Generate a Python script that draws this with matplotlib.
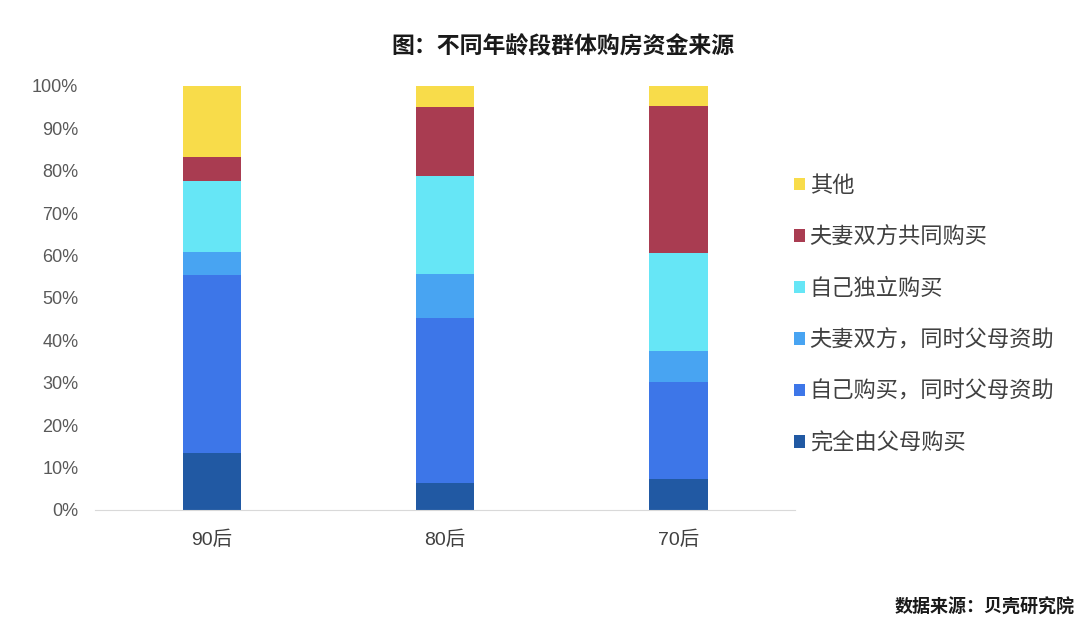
import matplotlib
matplotlib.use("Agg")
import matplotlib.pyplot as plt
from matplotlib.patches import Patch

plt.rcParams['font.family'] = ['Noto Sans CJK SC', 'DejaVu Sans']

# data (percent)
categories = ['90后', '80后', '70后']
series_names = ['完全由父母购买', '自己购买，同时父母资助', '夫妻双方，同时父母资助',
                '自己独立购买', '夫妻双方共同购买', '其他']
parents_only = [13.5, 6.3, 7.3]
self_with_parents = [42.0, 39.0, 23.0]
couple_with_parents = [5.4, 10.4, 7.1]
self_only = [16.6, 23.0, 23.1]
couple_only = [5.8, 16.3, 34.9]
other = [16.7, 5.0, 4.6]
colors = ['#2159a3', '#3d76e8', '#48a4f2', '#66e6f6', '#a93c51', '#f8dc4a']

series = [parents_only, self_with_parents, couple_with_parents, self_only, couple_only, other]

fig = plt.figure(figsize=(10.8, 6.23), dpi=100)
ax = fig.add_axes([95 / 1080, 1 - 510 / 623, 700 / 1080, 424 / 623])

x = list(range(len(categories)))
bottom = [0.0] * len(categories)
for vals, col in zip(series, colors):
    ax.bar(x, vals, 0.25, bottom=bottom, color=col, edgecolor='none')
    bottom = [b + v for b, v in zip(bottom, vals)]

tick_font = ['Liberation Sans', 'Noto Sans CJK SC']
ax.set_xlim(-0.5, 2.5)
ax.set_ylim(0, 100)
ax.set_yticks(range(0, 101, 10))
ax.set_yticklabels([f'{v}%' for v in range(0, 101, 10)], family=tick_font)
ax.set_xticks(x)
ax.set_xticklabels(categories, family=tick_font)
ax.tick_params(axis='y', length=0, labelsize=13, labelcolor='#595959', pad=12)
ax.tick_params(axis='x', length=0, labelsize=14, labelcolor='#404040', pad=15)
for s in ['top', 'right', 'left']:
    ax.spines[s].set_visible(False)
ax.spines['bottom'].set_color('#d9d9d9')

handles = [Patch(facecolor=c, edgecolor='none') for c in colors][::-1]
fig.legend(handles, series_names[::-1], loc='upper left',
           bbox_to_anchor=(774 / 1080, 1 - 154 / 623), frameon=False,
           fontsize=16, handlelength=0.5, handleheight=0.5,
           handletextpad=0.2, labelspacing=1.28, labelcolor='#404040')

fig.text(563 / 1080, 1 - 47 / 623, '图：不同年龄段群体购房资金来源', ha='center', va='center',
         fontsize=16.5, fontweight='bold', color='#1a1a1a')
fig.text(1075 / 1080, 1 - 607 / 623, '数据来源：贝壳研究院', ha='right', va='center',
         fontsize=13, fontweight='bold', color='#1a1a1a')

fig.savefig('out.png', dpi=100)
